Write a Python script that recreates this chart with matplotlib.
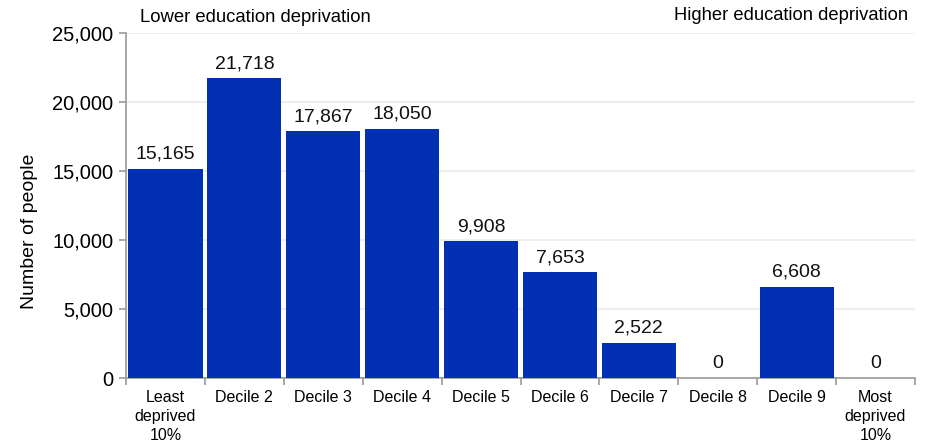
import matplotlib
matplotlib.use("Agg")
import matplotlib.pyplot as plt
from matplotlib.ticker import FuncFormatter, FixedLocator

plt.rcParams['font.family'] = ['Liberation Sans', 'DejaVu Sans']

categories = ["Least\ndeprived\n10%", "Decile 2", "Decile 3", "Decile 4", "Decile 5",
              "Decile 6", "Decile 7", "Decile 8", "Decile 9", "Most\ndeprived\n10%"]
values = [15165, 21718, 17867, 18050, 9908, 7653, 2522, 0, 6608, 0]
yticks = [0, 5000, 10000, 15000, 20000, 25000]

fig = plt.figure(figsize=(9.28, 4.44), dpi=100)
ax = fig.add_axes([126/928, 1-378/444, (915-126)/928, (378-33)/444])

x = list(range(len(categories)))
ax.bar(x, values, width=0.94, color='#0230B3', zorder=3)
for xi, v in zip(x, values):
    ax.text(xi, v + 450, f"{v:,}", ha='center', va='bottom', fontsize=14, color='#111111', zorder=4)

ax.set_xlim(-0.5, len(categories) - 0.5)
ax.set_ylim(0, 25000)
ax.set_yticks(yticks)
ax.yaxis.set_major_formatter(FuncFormatter(lambda v, p: f"{int(v):,}"))
ax.set_xticks(x)
ax.set_xticklabels(categories, fontsize=11.5, linespacing=1.3)
ax.xaxis.set_minor_locator(FixedLocator([i - 0.5 for i in range(len(categories) + 1)]))
ax.tick_params(axis='x', which='major', length=0, pad=9)
ax.tick_params(axis='x', which='minor', length=5, color='#999999', width=1.2)
ax.tick_params(axis='y', length=5, color='#999999', width=1.2, labelsize=14.5, pad=4)

ax.grid(axis='y', color='#eeeeee', linewidth=1.5, zorder=0)
for s in ['top', 'right']:
    ax.spines[s].set_visible(False)
for s in ['left', 'bottom']:
    ax.spines[s].set_color('#999999')
    ax.spines[s].set_linewidth(1.2)

ax.set_ylabel("Number of people", fontsize=14)
ax.yaxis.set_label_coords(38/928, 1-231/444, transform=fig.transFigure)

fig.text(255/928, 1-17/444, "Lower education deprivation", ha='center', va='center', fontsize=13.3)
fig.text(908/928, 1-15/444, "Higher education deprivation", ha='right', va='center', fontsize=13.2)

fig.savefig("out.png", dpi=100)
